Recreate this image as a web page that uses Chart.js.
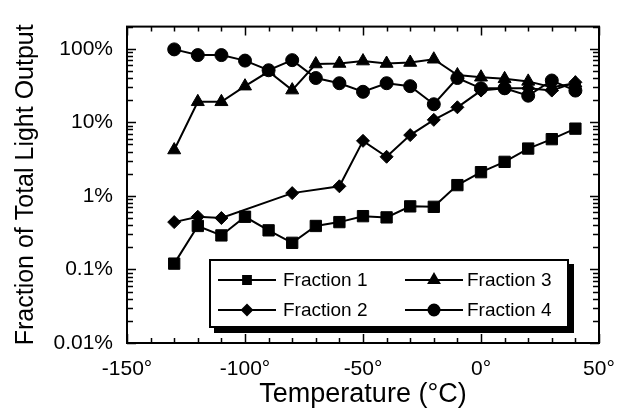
<!DOCTYPE html>
<html>
<head>
<meta charset="utf-8">
<script src="https://cdn.jsdelivr.net/npm/chart.js@4.4.1/dist/chart.umd.min.js"></script>
<style>
  html, body { margin: 0; background: #fff; }
</style>
</head>
<body>
<canvas id="chart" width="633" height="409"></canvas>
<script>
// Temperatures (°C) and fraction of light output (%)
const temps = [-130, -120, -110, -100, -90, -80, -70, -60, -50, -40, -30, -20, -10, 0, 10, 20, 30, 40];
const fraction1 = [0.12, 0.39, 0.29, 0.52, 0.34, 0.23, 0.39, 0.44, 0.53, 0.51, 0.72, 0.71, 1.4, 2.1, 2.9, 4.4, 5.9, 8.2];
const fraction2 = [0.44, 0.52, 0.50, null, null, 1.09, null, 1.35, 5.6, 3.4, 6.7, 10.8, 16, 27, 29, 29, 27, 35];
const fraction3 = [4.2, 19, 19, 31, 49, 27.4, 62, 63, 68, 63, 65, 72, 44, 41, 39, 36, 30, 34];
const fraction4 = [98, 82, 82, 69, 51, 70, 40, 34, 26, 34, 31, 17.6, 40, 29, 29, 23, 37, 27];

const xTickValues = [-150, -100, -50, 0, 50];
const xMinorStep = 10;
const yTickValues = [0.01, 0.1, 1, 10, 100];
const yTickLabels = ['0.01%', '0.1%', '1%', '10%', '100%'];

const FONT = "'Liberation Sans', Arial, Helvetica, sans-serif";

function series(label, values, style, radius) {
  return {
    label,
    data: temps.map((t, i) => ({ x: t, y: values[i] })),
    borderColor: '#000',
    backgroundColor: '#000',
    borderWidth: 2,
    pointStyle: style,
    pointRadius: radius,
    pointBorderWidth: 1,
    pointBackgroundColor: '#000',
    pointBorderColor: '#000',
    spanGaps: true,
    tension: 0
  };
}

// frame, inward ticks on all sides, boxed legend with shadow
const decorations = {
  id: 'decorations',
  afterDraw(chart) {
    const { ctx, chartArea: a, scales: { x, y } } = chart;
    ctx.save();
    ctx.strokeStyle = '#000';
    ctx.lineWidth = 1.5;
    ctx.beginPath();
    // x ticks: major and minor
    for (let v = x.min; v <= x.max; v += xMinorStep) {
      const px = Math.round(x.getPixelForValue(v)) + 0.5;
      const len = xTickValues.includes(v) ? 9 : 5;
      ctx.moveTo(px, a.bottom); ctx.lineTo(px, a.bottom - len);
      ctx.moveTo(px, a.top); ctx.lineTo(px, a.top + len);
    }
    // y ticks: decades and 2..9 minors
    for (let d = 0.01; d < y.max; d *= 10) {
      for (let m = 1; m <= 9; m++) {
        const v = d * m;
        if (v > y.max) break;
        const py = Math.round(y.getPixelForValue(v)) + 0.5;
        const len = m === 1 ? 9 : 6;
        ctx.moveTo(a.left, py); ctx.lineTo(a.left + len, py);
        ctx.moveTo(a.right, py); ctx.lineTo(a.right - len, py);
      }
    }
    ctx.stroke();
    ctx.lineWidth = 2;
    ctx.strokeRect(a.left, a.top, a.right - a.left, a.bottom - a.top);

    // legend
    const bx = 210, by = 260, bw = 358, bh = 67;
    ctx.fillStyle = '#000';
    ctx.fillRect(bx + 4, by + 4, bw + 2, bh + 2);
    ctx.fillStyle = '#fff';
    ctx.fillRect(bx, by, bw, bh);
    ctx.lineWidth = 2;
    ctx.strokeRect(bx, by, bw, bh);

    const cols = [{ x0: 218, x1: 276, tx: 283 }, { x0: 405, x1: 463, tx: 467 }];
    const rows = [280, 310];
    const order = [[0, 0, 0], [1, 0, 1], [2, 1, 0], [3, 1, 1]];
    const legendRadius = [5.5, 5, 6, 5.5];
    ctx.font = '19px ' + FONT;
    ctx.textBaseline = 'middle';
    ctx.textAlign = 'left';
    order.forEach(([di, ci, ri]) => {
      const ds = chart.data.datasets[di];
      const c = cols[ci], yy = rows[ri];
      ctx.strokeStyle = '#000';
      ctx.lineWidth = 2;
      ctx.beginPath();
      ctx.moveTo(c.x0, yy); ctx.lineTo(c.x1, yy);
      ctx.stroke();
      ctx.fillStyle = '#000';
      Chart.helpers.drawPoint(ctx, { pointStyle: ds.pointStyle, radius: legendRadius[di], borderWidth: 1 }, (c.x0 + c.x1) / 2, yy);
      ctx.fillStyle = '#000';
      ctx.fillText(ds.label, c.tx, yy + 1);
    });
    ctx.restore();
  }
};

new Chart(document.getElementById('chart'), {
  type: 'line',
  data: {
    datasets: [
      series('Fraction 1', fraction1, 'rect', 8),
      series('Fraction 2', fraction2, 'rectRot', 6.5),
      series('Fraction 3', fraction3, 'triangle', 7.5),
      series('Fraction 4', fraction4, 'circle', 6.5)
    ]
  },
  options: {
    responsive: false,
    animation: false,
    layout: { padding: { top: 16, right: 34, left: 0, bottom: 0 } },
    plugins: { legend: { display: false }, tooltip: { enabled: false } },
    scales: {
      x: {
        type: 'linear',
        min: -150,
        max: 50,
        afterFit: s => { s.height = 66; },
        afterBuildTicks: s => { s.ticks = xTickValues.map(v => ({ value: v })); },
        grid: { display: false, drawTicks: false },
        border: { display: false },
        ticks: {
          color: '#000',
          font: { family: FONT, size: 21 },
          padding: 14,
          maxRotation: 0,
          autoSkip: false,
          callback: v => v + '°'
        },
        title: {
          display: true,
          text: 'Temperature (°C)',
          color: '#000',
          font: { family: FONT, size: 27, lineHeight: 1 },
          padding: { top: 0, bottom: 1 }
        }
      },
      y: {
        type: 'logarithmic',
        min: 0.01,
        max: 200,
        afterFit: s => { s.width = 127; },
        afterBuildTicks: s => { s.ticks = yTickValues.map(v => ({ value: v })); },
        grid: { display: false, drawTicks: false },
        border: { display: false },
        ticks: {
          color: '#000',
          font: { family: FONT, size: 21 },
          padding: 14,
          autoSkip: false,
          callback: (v) => {
            const i = yTickValues.indexOf(v);
            return i >= 0 ? yTickLabels[i] : '';
          }
        },
        title: {
          display: true,
          text: 'Fraction of Total Light Output',
          color: '#000',
          font: { family: FONT, size: 25, lineHeight: 1 },
          padding: { top: 14, bottom: 0 }
        }
      }
    }
  },
  plugins: [decorations]
});
</script>
</body>
</html>
